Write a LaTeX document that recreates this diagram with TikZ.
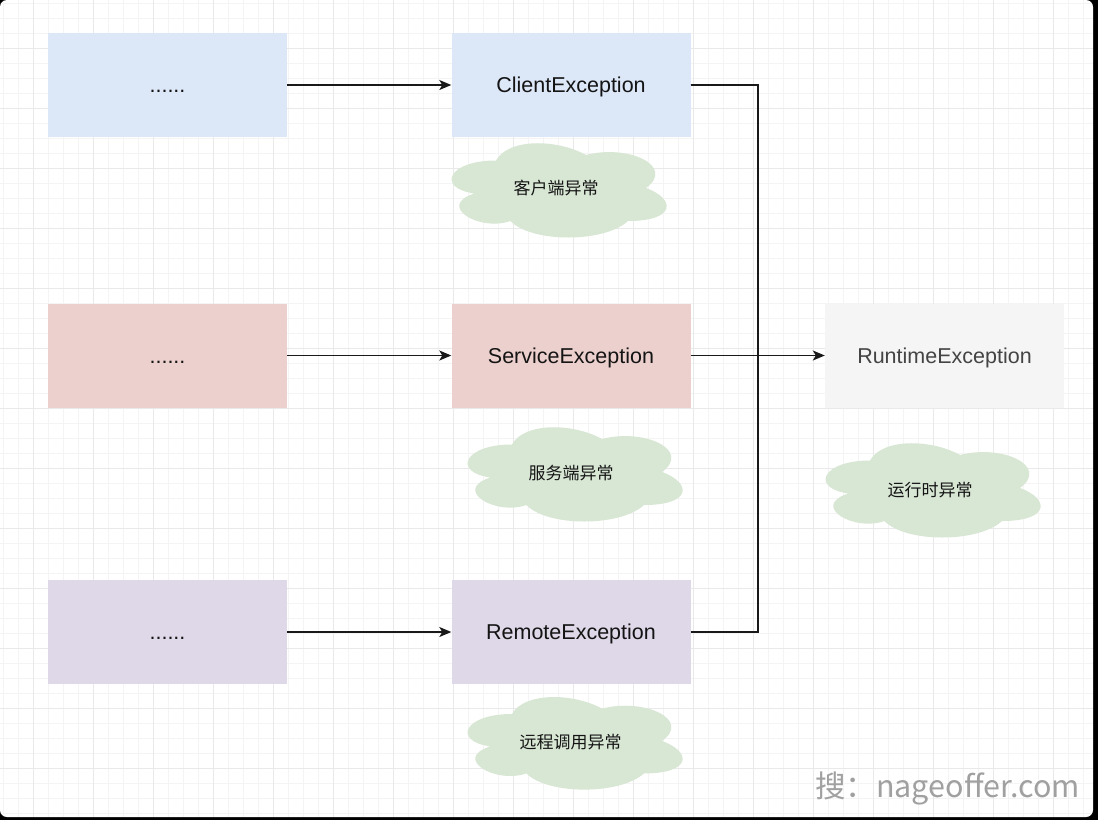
\documentclass[tikz,border=0pt]{standalone}
\usepackage{fontspec}
\setmainfont{Liberation Sans}
\newfontfamily\cjk{Noto Sans CJK SC}
\usetikzlibrary{arrows.meta}
\definecolor{gminor}{HTML}{F4F4F4}
\definecolor{gmajor}{HTML}{E9E9E9}
\definecolor{cblue}{HTML}{DCE7F8}
\definecolor{cred}{HTML}{ECD0CD}
\definecolor{cpurple}{HTML}{DFD8E8}
\definecolor{cgray}{HTML}{F5F5F5}
\definecolor{cgreen}{HTML}{D8E6D4}
\definecolor{ctext}{HTML}{141414}
\definecolor{cgtext}{HTML}{444444}
\definecolor{wmark}{HTML}{A0A0A0}
\tikzset{
  minorline/.style={draw=gminor, line width=0.9pt},
  majorline/.style={draw=gmajor, line width=1pt},
  exbox/.style={minimum width=239pt, minimum height=104pt, inner sep=0pt,
    text depth=0pt, font=\fontsize{21.5}{26}\selectfont, text=ctext},
  dotbox/.style={exbox, text height=15.5pt},
  cloudtxt/.style={font=\cjk\fontsize{17}{20}\selectfont, text=ctext, inner sep=0pt},
  conn/.style={draw=black!90, line width=1.3pt},
  arr/.style={conn, -{Stealth[length=12pt,width=10pt,inset=3pt]}},
  dcloud/.pic={
    \fill[cgreen] (0.25,0.25) .. controls (0.05,0.25) and (0,0.5) .. (0.16,0.55)
      .. controls (0,0.66) and (0.18,0.9) .. (0.31,0.8)
      .. controls (0.4,1) and (0.7,1) .. (0.8,0.8)
      .. controls (1,0.8) and (1,0.6) .. (0.875,0.5)
      .. controls (1,0.3) and (0.8,0.1) .. (0.625,0.2)
      .. controls (0.5,0.05) and (0.3,0.05) .. (0.25,0.25) -- cycle;
  }
}
\begin{document}
\begin{tikzpicture}[x=1pt,y=-1pt]
\useasboundingbox (0,0) rectangle (1098,820);
\fill[black] (0,0) rectangle (1098,820);
\fill[white, rounded corners=7pt] (0,0) rectangle (1093,817);
\begin{scope}
  \clip[rounded corners=7pt] (0,0) rectangle (1093,817);
  \foreach \i in {0,...,72} { \draw[minorline] (3.3+15*\i,0) -- ++(0,817); }
  \foreach \i in {0,...,54} { \draw[minorline] (0,3.3+15*\i) -- ++(1093,0); }
  \foreach \i in {0,...,17} { \draw[majorline] (33.3+60*\i,0) -- ++(0,817); }
  \foreach \i in {0,...,12} { \draw[majorline] (0,48.3+60*\i) -- ++(1093,0); }
\end{scope}

% clouds
\pic[xscale=240,yscale=110] at (436,133) {dcloud};
\pic[xscale=240,yscale=110] at (452,417) {dcloud};
\pic[xscale=240,yscale=108] at (452,687) {dcloud};
\pic[xscale=240,yscale=110] at (810,433) {dcloud};
\node[cloudtxt] (t1) at (556,188) {客户端异常};
\node[cloudtxt] (t2) at (571,473) {服务端异常};
\node[cloudtxt] (t3) at (570.5,742.5) {远程调用异常};
\node[cloudtxt] (t4) at (930,490) {运行时异常};

% boxes
\node[dotbox, fill=cblue] (l1) at (167.5,85) {......};
\node[dotbox, fill=cred] (l2) at (167.5,355.5) {......};
\node[dotbox, fill=cpurple] (l3) at (167.5,632) {......};
\node[exbox, fill=cblue] (cli) at (571,85) {ClientException};
\node[exbox, fill=cred] (svc) at (571,355.5) {ServiceException};
\node[exbox, fill=cpurple] (rem) at (571,632) {RemoteException};
\node[exbox, fill=cgray, text=cgtext] (rt) at (944.5,355.5) {RuntimeException};

% connectors
\draw[arr] (l1) -- (cli);
\draw[arr] (l2) -- (svc);
\draw[arr] (l3) -- (rem);
\coordinate (j) at (758,355.5);
\draw[conn] (cli.east) -| (j);
\draw[conn] (rem.east) -| (j);
\draw[arr] (svc) -- (rt);

% watermark
\node[anchor=base east, inner sep=0pt, text=wmark, font=\cjk\fontsize{30.5}{34}\selectfont] (wm) at (1080,797) {搜：nageoffer.com};
\end{tikzpicture}
\end{document}
